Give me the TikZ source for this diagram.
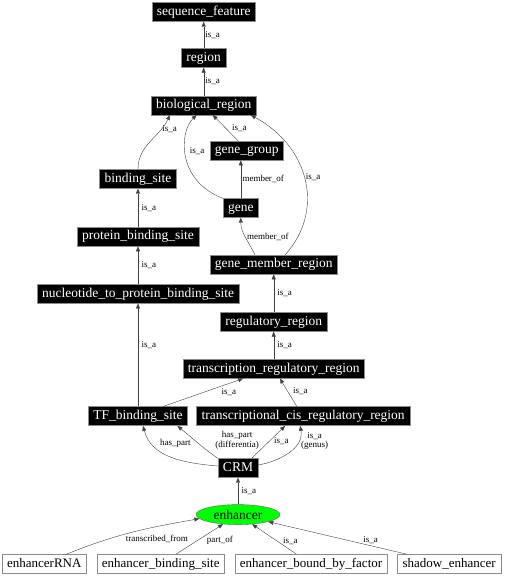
\documentclass[tikz,border=0pt]{standalone}
\usepackage{fontspec}
\setmainfont{Liberation Serif}
\usepackage{tikz}
\usetikzlibrary{positioning, shapes.geometric, arrows.meta}

\begin{document}
\begin{tikzpicture}[
    x=1pt, y=1pt,
    term/.style={draw=black!45, fill=black, text=white, rectangle, minimum height=19pt, inner xsep=5pt, inner ysep=2pt, text height=9.5pt, text depth=3pt, font=\fontsize{13.5}{14}\selectfont},
    leaf/.style={draw=black!45, fill=white, rectangle, minimum height=19pt, inner xsep=5pt, inner ysep=2pt, text height=9.5pt, text depth=3pt, font=\fontsize{13}{14}\selectfont},
    focus/.style={draw=black!60, fill=green, ellipse, minimum width=84pt, minimum height=20pt, inner sep=0pt, font=\fontsize{13.5}{14}\selectfont},
    rel/.style={draw=black!75, -{Triangle[length=5pt,width=4pt]}},
    rlabel/.style={font=\fontsize{9}{9.5}\selectfont, inner sep=1.5pt}
]
\useasboundingbox (0,0) rectangle (507,576);

% nodes
\node[term] (sf) at (203.7,564) {sequence\_feature};
\node[term, below=26.5pt of sf] (reg) {region};
\node[term, below=28pt of reg] (bio) {biological\_region};
\node[term] (gg) at (246.7,425.3) {gene\_group};
\node[term] (bs) at (138,397) {binding\_site};
\node[term] (gene) at (240.8,368) {gene};
\node[term, below=38.2pt of bs] (pbs) {protein\_binding\_site};
\node[term] (gmr) at (273.7,311.3) {gene\_member\_region};
\node[term, below=37.8pt of pbs] (nps) {nucleotide\_to\_protein\_binding\_site};
\node[term, below=37.8pt of gmr] (rr) {regulatory\_region};
\node[term, below=27.5pt of rr] (trr) {transcription\_regulatory\_region};
\node[term, below=103pt of nps] (tfbs) {TF\_binding\_site};
\node[term, right=8.5pt of tfbs] (tcis) {transcriptional\_cis\_regulatory\_region};
\node[term] (crm) at (238,108) {CRM};
\node[focus, below=26.7pt of crm] (enh) {enhancer};
\node[leaf] (erna) at (44.3,12.2) {enhancerRNA};
\node[leaf, right=10pt of erna] (ebs) {enhancer\_binding\_site};
\node[leaf, right=10pt of ebs] (ebf) {enhancer\_bound\_by\_factor};
\node[leaf, right=10pt of ebf] (she) {shadow\_enhancer};

% edges between nodes
\draw[rel] (reg) -- (sf) node[midway, right, rlabel] {is\_a};
\draw[rel] (bio) -- (reg) node[midway, right, rlabel] {is\_a};
\draw[rel] (bs.north) to[out=90, in=-115] node[pos=0.75, right, rlabel] {is\_a} ([xshift=-33.7pt]bio.south);
\draw[rel] (gene.north west) .. controls +(-47,18) and +(-17,-16) .. node[pos=0.55, right=3pt, rlabel] {is\_a} ([xshift=-7pt]bio.south);
\draw[rel] ([xshift=-8.4pt]gg.north) -- ([xshift=9pt]bio.south) node[midway, right=5pt, rlabel] {is\_a};
\draw[rel] (gene) -- (gene |- gg.south) node[midway, right, rlabel] {member\_of};
\draw[rel] ([xshift=-18.7pt]gmr.north) to[out=115, in=-90] node[pos=0.5, right, rlabel] {member\_of} (gene.south);
\draw[rel] ([xshift=11.3pt]gmr.north) .. controls +(40,44) and +(59,-32) .. node[pos=0.52, right, rlabel] {is\_a} ([xshift=47pt]bio.south);
\draw[rel] (pbs) -- (bs) node[midway, right=2pt, rlabel] {is\_a};
\draw[rel] (nps) -- (pbs) node[midway, right=2pt, rlabel] {is\_a};
\draw[rel] (rr) -- (gmr) node[midway, right=2pt, rlabel] {is\_a};
\draw[rel] (tfbs) -- (nps) node[pos=0.6, right=2pt, rlabel] {is\_a};
\draw[rel] (trr) -- (rr) node[midway, right=2pt, rlabel] {is\_a};
\draw[rel] ([xshift=25pt]tfbs.north) -- ([xshift=-30.5pt]trr.south) node[pos=0.71, anchor=north west, rlabel] {is\_a};
\draw[rel] ([xshift=-6.3pt]tcis.north) -- ([xshift=6.2pt]trr.south) node[pos=0.55, right=4pt, rlabel] {is\_a};
\draw[rel] ([yshift=2pt]crm.west) to[out=175, in=-75] node[pos=0.45, above=9pt, rlabel] {has\_part} ([xshift=5pt]tfbs.south);
\draw[rel] (crm.north west) to[out=145, in=-39] node[pos=0.57, right=19pt, rlabel, align=center] {has\_part\\(differentia)} ([xshift=39.4pt]tfbs.south);
\draw[rel] ([xshift=13.7pt]crm.north) -- ([xshift=-18pt]tcis.south) node[pos=0.53, right=3pt, rlabel] {is\_a};
\draw[rel] ([yshift=3pt]crm.east) to[out=10, in=-80] node[pos=0.75, right=1pt, rlabel, align=center] {is\_a\\(genus)} ([xshift=-3pt]tcis.south);
\draw[rel] (enh) -- (crm) node[midway, right=2pt, rlabel] {is\_a};
\draw[rel] ([xshift=22.4pt]erna.north) to[out=22, in=190] node[pos=0.7, below=7pt, rlabel] {transcribed\_from} (enh.186);
\draw[rel] ([xshift=15.4pt]ebs.north) -- (enh) node[pos=0.45, right=8pt, rlabel] {part\_of};
\draw[rel] ([xshift=-14.7pt]ebf.north) -- (enh) node[pos=0.45, right=5pt, rlabel] {is\_a};
\draw[rel] ([xshift=-42.7pt]she.north) -- (enh) node[pos=0.26, above, rlabel] {is\_a};

\end{tikzpicture}
\end{document}
